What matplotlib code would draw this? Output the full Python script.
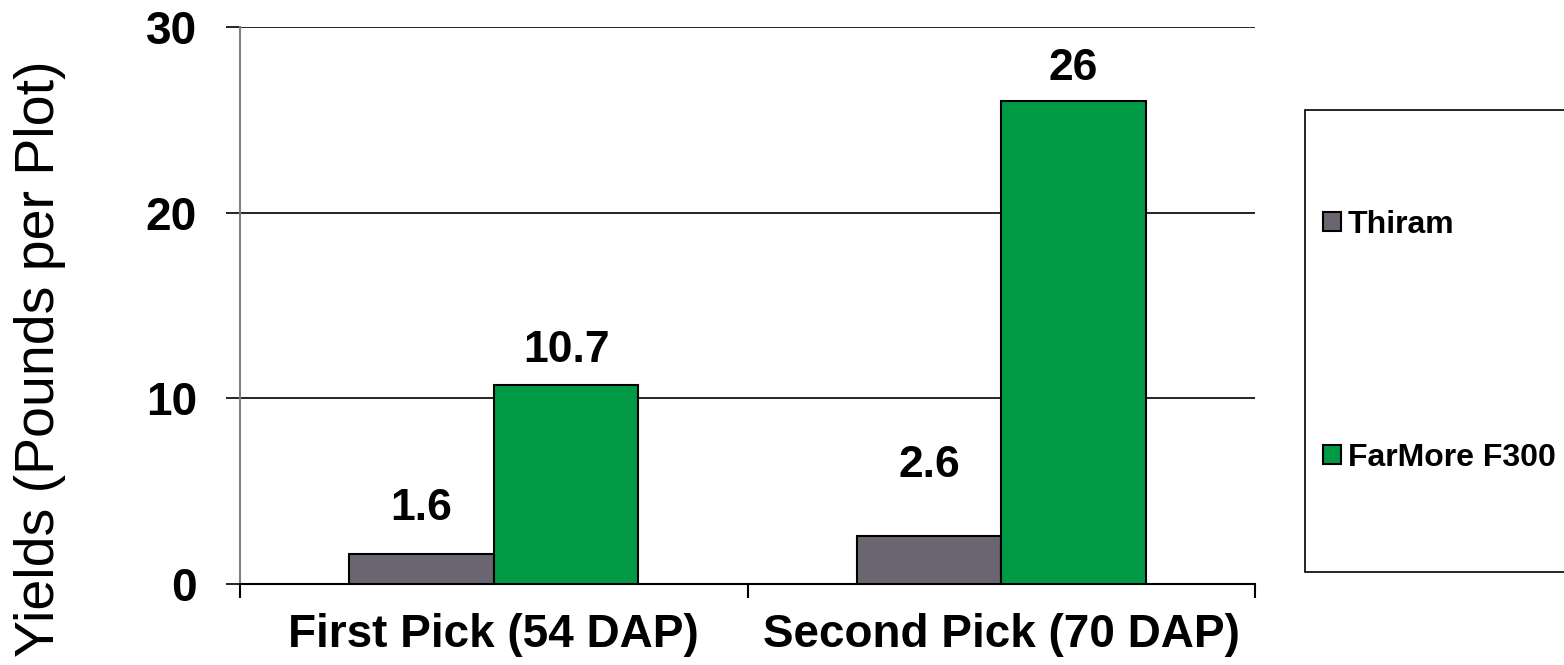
import matplotlib.pyplot as plt
from matplotlib.patches import Rectangle
import numpy as np

plt.rcParams['font.family'] = ['Liberation Sans', 'DejaVu Sans']

categories = ['First Pick (54 DAP)', 'Second Pick (70 DAP)']
series_names = ['Thiram', 'FarMore F300']
thiram = [1.6, 2.6]
farmore = [10.7, 26]
value_labels = [['1.6', '2.6'], ['10.7', '26']]

colors = ['#6A6570', '#009A44']
label_offsets = [[24.5, 42.5], [16.6, 15.2]]  # baseline, points above bar top

fig = plt.figure(figsize=(15.64, 6.65), dpi=100)
ax = fig.add_axes([0.1535, 0.1218, 0.6489, 0.8376])

x = np.arange(len(categories))
w = 0.285
for i, vals in enumerate([thiram, farmore]):
    b = ax.bar(x + (i - 0.5) * w, vals, w, color=colors[i], edgecolor='black',
               linewidth=1.5, label=series_names[i], zorder=3)
    for j, rect in enumerate(b):
        ax.annotate(value_labels[i][j],
                    (rect.get_x() + rect.get_width() / 2, rect.get_height()),
                    xytext=(0, label_offsets[i][j]), textcoords='offset points',
                    ha='center', va='baseline', fontsize=32, fontweight='bold')

ax.set_xlim(-0.5, 1.5)
ax.set_ylim(0, 30)
ax.set_yticks([0, 10, 20, 30])
ax.yaxis.grid(True, color='black', linewidth=1.2, zorder=0)
ax.tick_params(axis='y', length=10, width=1.2, pad=21, labelsize=33, direction='out')
for t in ax.get_yticklabels():
    t.set_fontweight('bold')

ax.set_xticks([-0.5, 0.5, 1.5])
ax.set_xticklabels([])
ax.set_xticks(x, minor=True)
ax.set_xticklabels(categories, minor=True, fontsize=33, fontweight='bold')
ax.tick_params(axis='x', which='major', length=10, width=1.5, direction='out')
ax.tick_params(axis='x', which='minor', length=0, pad=21)

ax.spines['top'].set_visible(False)
ax.spines['right'].set_visible(False)
ax.spines['left'].set_color('#808080')
ax.spines['left'].set_linewidth(1.5)
ax.spines['bottom'].set_linewidth(1.5)

ax.set_ylabel('Yields (Pounds per Plot)', fontsize=40)
ax.yaxis.set_label_coords(-0.172, 0.405)

# legend box
fig.patches.append(Rectangle((1305 / 1564, 1 - 572 / 665), 0.3, (572 - 110) / 665,
                             transform=fig.transFigure, facecolor='white',
                             edgecolor='black', linewidth=1.2))
leg = fig.legend(loc='center left', bbox_to_anchor=(1323 / 1564, 0.487), frameon=False,
                 prop={'size': 23, 'weight': 'bold'}, labelspacing=6.36,
                 borderpad=0, borderaxespad=0,
                 handlelength=0.56, handleheight=0.56, handletextpad=0.22)

plt.savefig('out.png')
